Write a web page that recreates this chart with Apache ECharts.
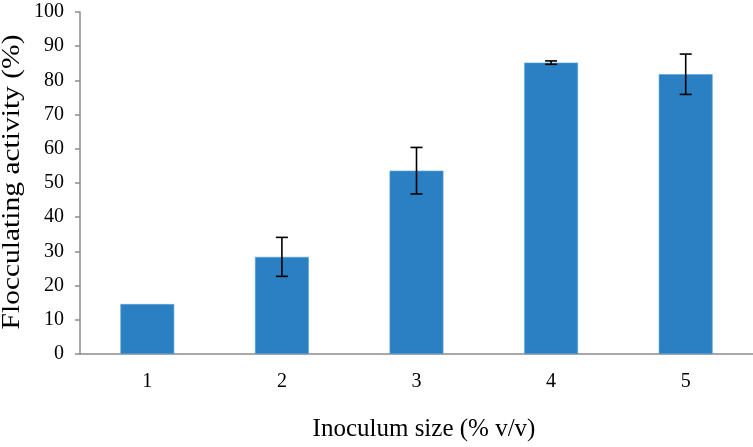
<!DOCTYPE html>
<html>
<head>
<meta charset="utf-8">
<style>html,body{margin:0;padding:0;background:#fff;}#c{width:753px;height:447px;}</style>
<script src="https://cdn.jsdelivr.net/npm/echarts@6/dist/echarts.min.js"></script>
</head>
<body>
<div id="c"></div>
<script>
const categories = ['1', '2', '3', '4', '5'];
const values = [14.6, 28.4, 53.6, 85.2, 81.8];
const errors = [0, 5.7, 6.8, 0.5, 5.9];
const yTicks = [0, 10, 20, 30, 40, 50, 60, 70, 80, 90, 100];
const xTitle = 'Inoculum size (% v/v)';
const yTitle = 'Flocculating activity (%)';

const FONT = '"Liberation Serif", "Times New Roman", serif';
const chart = echarts.init(document.getElementById('c'));

const errData = categories.map((c, i) => [i, values[i] - errors[i], values[i] + errors[i], errors[i]]);

chart.setOption({
  animation: false,
  backgroundColor: '#fff',
  grid: { left: 80, top: 12, width: 675, height: 342, containLabel: false },
  xAxis: {
    type: 'category',
    data: categories,
    axisLine: { lineStyle: { color: '#8c8c8c', width: 1.5 } },
    axisTick: { show: false },
    axisLabel: { color: '#000', fontFamily: FONT, fontSize: 20, margin: 18 }
  },
  yAxis: {
    type: 'value',
    min: yTicks[0],
    max: yTicks[yTicks.length - 1],
    interval: 10,
    axisLine: { show: true, lineStyle: { color: '#8c8c8c', width: 1.5 } },
    axisTick: { show: true, length: 5, lineStyle: { color: '#8c8c8c', width: 1.5 } },
    splitLine: { show: false },
    axisLabel: { color: '#000', fontFamily: FONT, fontSize: 20, margin: 16 }
  },
  graphic: [{
    type: 'text',
    x: 12,
    y: 182,
    rotation: Math.PI / 2,
    scaleX: 1.18,
    style: {
      text: yTitle,
      font: '25px ' + FONT,
      fill: '#000',
      textAlign: 'center',
      textVerticalAlign: 'middle'
    }
  }, {
    type: 'text',
    x: 424,
    y: 429,
    style: {
      text: xTitle,
      font: '25px ' + FONT,
      fill: '#000',
      textAlign: 'center',
      textVerticalAlign: 'middle'
    }
  }],
  series: [
    {
      type: 'bar',
      data: values,
      barWidth: '40%',
      itemStyle: { color: '#2a80c2', borderColor: '#5aa3d8', borderWidth: 0.6 }
    },
    {
      type: 'custom',
      data: errData,
      z: 10,
      renderItem: function (params, api) {
        if (api.value(3) <= 0) return null;
        const x = api.value(0);
        const lo = api.coord([x, api.value(1)]);
        const hi = api.coord([x, api.value(2)]);
        const hw = 6;
        const style = { stroke: '#000', lineWidth: 1.6 };
        return {
          type: 'group',
          children: [
            { type: 'line', shape: { x1: lo[0], y1: lo[1], x2: hi[0], y2: hi[1] }, style: style },
            { type: 'line', shape: { x1: lo[0] - hw, y1: lo[1], x2: lo[0] + hw, y2: lo[1] }, style: style },
            { type: 'line', shape: { x1: hi[0] - hw, y1: hi[1], x2: hi[0] + hw, y2: hi[1] }, style: style }
          ]
        };
      }
    }
  ]
});
</script>
</body>
</html>
